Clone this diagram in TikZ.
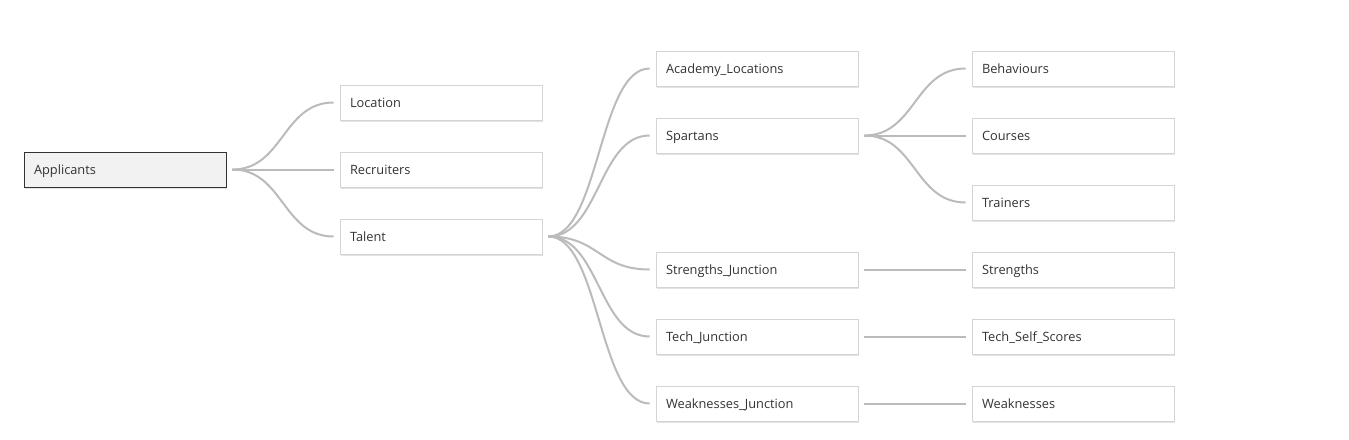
\documentclass[tikz,border=0pt]{standalone}
\usepackage{fontspec}
\setmainfont{Open Sans}
\usetikzlibrary{shadows}
\definecolor{linkc}{HTML}{BBBBBB}
\definecolor{boxc}{HTML}{D4D4D4}
\definecolor{txtc}{HTML}{333333}
\tikzset{
  tbl/.style={draw=boxc, line width=0.8pt, fill=white, minimum width=202pt, minimum height=35pt,
    inner sep=0pt, text=txtc, font=\fontsize{12.8}{14}\selectfont,
    text height=10pt, text depth=0.5pt,
    drop shadow={shadow xshift=1.2pt, shadow yshift=-1.5pt, opacity=0.18, fill=black!60},
    text width=182pt, align=left},
  rootbox/.style={tbl, draw=txtc, fill=black!5},
  link/.style={draw=linkc, line width=2pt},
}
\newcommand{\lnk}[2]{\draw[link] ([xshift=6pt]#1.east) .. controls ([xshift=57pt]#1.east) and ([xshift=-57pt]#2.west) .. ([xshift=-6pt]#2.west);}
\begin{document}
\begin{tikzpicture}[x=1pt,y=-1pt]
\useasboundingbox (0,0) rectangle (1349,439);
\node[rootbox] (app) at (125,169.5) {Applicants};
\node[tbl] (loc) at (441,102.5) {Location};
\node[tbl] (rec) at (441,169.5) {Recruiters};
\node[tbl] (tal) at (441,236.5) {Talent};
\node[tbl] (aca) at (757,68.5) {Academy\_Locations};
\node[tbl] (spa) at (757,135.5) {Spartans};
\node[tbl] (stj) at (757,269.5) {Strengths\_Junction};
\node[tbl] (tej) at (757,336.5) {Tech\_Junction};
\node[tbl] (wej) at (757,403.5) {Weaknesses\_Junction};
\node[tbl] (beh) at (1073,68.5) {Behaviours};
\node[tbl] (cou) at (1073,135.5) {Courses};
\node[tbl] (tra) at (1073,202.5) {Trainers};
\node[tbl] (str) at (1073,269.5) {Strengths};
\node[tbl] (tss) at (1073,336.5) {Tech\_Self\_Scores};
\node[tbl] (wea) at (1073,403.5) {Weaknesses};
\lnk{app}{loc}
\lnk{app}{rec}
\lnk{app}{tal}
\lnk{tal}{aca}
\lnk{tal}{spa}
\lnk{tal}{stj}
\lnk{tal}{tej}
\lnk{tal}{wej}
\lnk{spa}{beh}
\lnk{spa}{cou}
\lnk{spa}{tra}
\lnk{stj}{str}
\lnk{tej}{tss}
\lnk{wej}{wea}
\end{tikzpicture}
\end{document}
